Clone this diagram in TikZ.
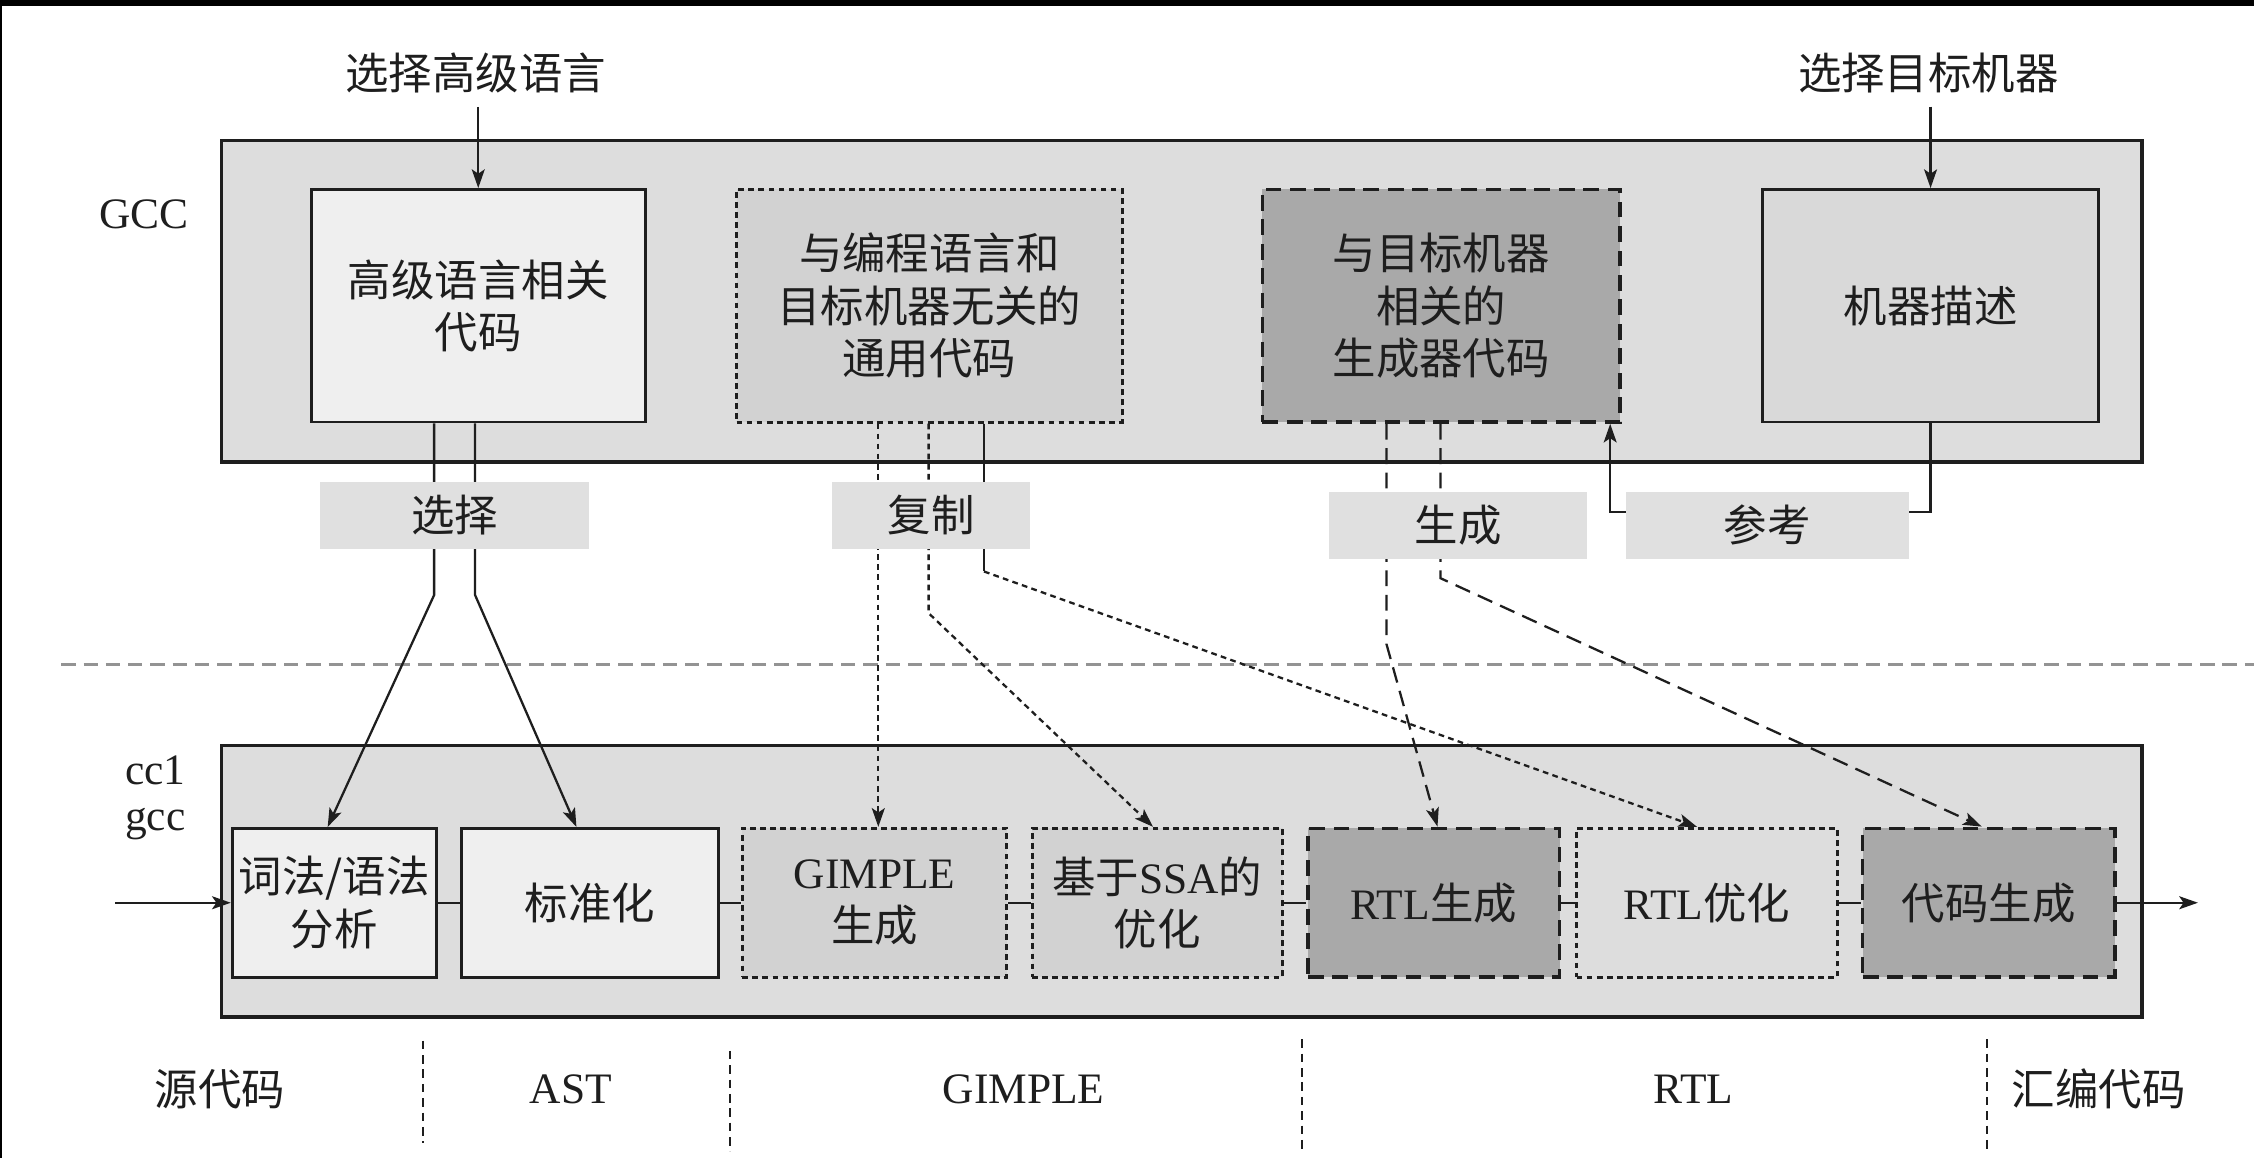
\documentclass[tikz,border=0pt]{standalone}
\usepackage{fontspec}
\setmainfont{Liberation Serif}
\newfontfamily\cjk{Noto Sans CJK SC}
\usetikzlibrary{arrows.meta,calc}
\newcommand\lat[1]{{\rmfamily #1}}
\definecolor{bgc}{HTML}{DDDDDD}
\definecolor{lite}{HTML}{EFEFEF}
\definecolor{midc}{HTML}{D2D2D2}
\definecolor{darkc}{HTML}{A9A9A9}
\definecolor{descc}{HTML}{D9D9D9}
\definecolor{labc}{HTML}{E0E0E0}
\definecolor{ink}{HTML}{1E1E1E}
\begin{document}
\begin{tikzpicture}[x=0.1mm,y=-0.1mm,
  every node/.style={font=\cjk\fontsize{8.6}{10.4}\selectfont, text=ink, align=center, inner sep=0pt},
  outerbox/.style={draw=ink, line width=0.65pt, fill=bgc, minimum width=133.6mm},
  solidbox/.style={draw=ink, line width=0.55pt},
  dotbox/.style={draw=ink, line width=0.6pt, dash pattern=on 0.4mm off 0.3mm},
  dashbox/.style={draw=ink, line width=0.7pt, dash pattern=on 1.1mm off 0.6mm},
  topbox/.style={minimum height=16.18mm},
  lowbox/.style={minimum height=10.35mm},
  lbl/.style={fill=labc, minimum height=4.7mm},
  conn/.style={draw=ink, line width=0.45pt},
  arr/.style={-{Stealth[length=1.3mm,width=0.9mm,inset=0.3mm]}},
  dotline/.style={dash pattern=on 0.4mm off 0.3mm},
  dashline/.style={dash pattern=on 1.1mm off 0.6mm},
  sepv/.style={draw=ink, line width=0.4pt, dash pattern=on 0.6mm off 0.4mm},
  seph/.style={draw=gray!85, line width=0.6pt, dash pattern=on 1mm off 0.55mm}
]
\useasboundingbox (0,0) rectangle (1568,805.6);
\fill[white] (0,0) rectangle (1568,805.6);
\fill[black] (0,0) rectangle (1568,4.5);
\fill[black] (0,0) rectangle (1.5,805.6);

% outer containers
\node[outerbox, minimum height=22.37mm] (gccbox) at (822,209.5) {};
\node[outerbox, minimum height=18.91mm] (ccbox) at (822,613) {};
\node (gcclbl) at (100,149) {\lat{GCC}};
\node (cc1lbl) at (108,535.7) {\lat{cc1}};
\node (gcc2lbl) at (108,573.4) {\lat{gcc}};

% horizontal separator
\coordinate (sepL) at (42.6,462.4);
\coordinate (sepR) at (1568,462.4);
\draw[seph] (sepL) -- (sepR);

% top texts
\node[inner ysep=0.9mm] (tsel) at (331,50.6) {选择高级语言};
\node[inner ysep=0.9mm] (tmac) at (1341.5,50.6) {选择目标机器};

% top boxes
\node[solidbox, topbox, fill=lite, minimum width=23.22mm] (A) at (332.7,212.7) {高级语言相关\\代码};
\node[dotbox, topbox, fill=midc, minimum width=26.82mm] (B) at (646.5,212.7) {与编程语言和\\目标机器无关的\\通用代码};
\node[dashbox, topbox, fill=darkc, minimum width=24.87mm] (C) at (1002.55,212.7) {与目标机器\\相关的\\生成器代码};
\node[solidbox, topbox, fill=descc, minimum width=23.36mm] (D) at (1343,212.7) {机器描述};

% lower boxes
\node[solidbox, lowbox, fill=lite, minimum width=14.19mm] (L1) at (232.45,628) {词法/语法\\分析};
\node[solidbox, lowbox, fill=lite, minimum width=17.9mm] (L2) at (410.4,628) {标准化};
\node[dotbox, lowbox, fill=midc, minimum width=18.4mm] (L3) at (608.4,628) {\lat{GIMPLE}\\生成};
\node[dotbox, lowbox, fill=midc, minimum width=17.42mm] (L4) at (805.1,628) {基于\lat{SSA}的\\优化};
\node[dashbox, lowbox, fill=darkc, minimum width=17.52mm] (L5) at (997.4,628) {\lat{RTL}生成};
\node[dotbox, lowbox, fill=bgc, minimum width=18.15mm] (L6) at (1187.55,628) {\lat{RTL}优化};
\node[dashbox, lowbox, fill=darkc, minimum width=17.55mm] (L7) at (1383.55,628) {代码生成};

% chain
\coordinate (inp) at (80,628);
\coordinate (outp) at (1529,628);
\draw[conn,arr] (inp) -- (L1.west);
\draw[conn] (L1.east) -- (L2.west);
\draw[conn] (L2.east) -- (L3.west);
\draw[conn] (L3.east) -- (L4.west);
\draw[conn] (L4.east) -- (L5.west);
\draw[conn] (L5.east) -- (L6.west);
\draw[conn] (L6.east) -- (L7.west);
\draw[conn,arr] (L7.east) -- (outp);

% input arrows
\draw[conn,arr] (tsel.south -| A.north) -- (A.north);
\draw[conn,arr] (tmac.south -| D.north) -- (D.north);

% from A (select)
\coordinate (a1) at ($(A.south)+(-30.7,0)$);
\coordinate (a2) at ($(A.south)+(-2.2,0)$);
\coordinate (a1b) at ($(a1)+(0,119.4)$);
\coordinate (a2b) at ($(a2)+(0,119.4)$);
\coordinate (l1t) at ($(L1.north)+(-4.5,0)$);
\coordinate (l2t) at ($(L2.north)+(-9.4,0)$);
\draw[conn,arr] (a1) -- (a1b) -- (l1t);
\draw[conn,arr] (a2) -- (a2b) -- (l2t);

% from B (copy)
\coordinate (b1) at ($(B.south)+(-35.5,0)$);
\coordinate (b2) at ($(B.south)+(-0.5,0)$);
\coordinate (b3) at ($(B.south)+(38,0)$);
\coordinate (b2b) at ($(b2)+(0,131.9)$);
\coordinate (b3b) at ($(b3)+(0,102.9)$);
\coordinate (l4t) at ($(L4.north)+(-3,0)$);
\coordinate (l6t) at ($(L6.north)+(-7,0)$);
\draw[conn,arr,dotline] (b1) -- (b1 |- L3.north);
\draw[conn,arr,dotline] (b2) -- (b2b) -- (l4t);
\draw[conn] (b3) -- (b3b);
\draw[conn,arr,dotline] (b3b) -- (l6t);

% from C (generate)
\coordinate (c1) at ($(C.south)+(-38,0)$);
\coordinate (c2) at ($(C.south)+(-0.5,0)$);
\coordinate (c1b) at ($(c1)+(0,153.4)$);
\coordinate (c2b) at ($(c2)+(0,107.4)$);
\coordinate (l5t) at ($(L5.north)+(2.6,0)$);
\coordinate (l7t) at ($(L7.north)+(-5,0)$);
\draw[conn,arr,dashline] (c1) -- (c1b) -- (l5t);
\draw[conn,arr,dashline] (c2) -- (c2b) -- (l7t);

% reference
\coordinate (cref) at ($(C.south east)+(-8,0)$);
\draw[conn,arr] (D.south) -- ++(0,61.5) -| (cref);

% labels
\node[lbl, minimum width=18.74mm] (sel) at (316.3,358.5) {选择};
\node[lbl, minimum width=13.75mm] (cpy) at (647.75,358.5) {复制};
\node[lbl, minimum width=17.94mm] (gen) at (1014.3,365.5) {生成};
\node[lbl, minimum width=19.7mm] (ref) at (1229.5,365.5) {参考};

% bottom stage labels
\node (s1) at (153,757.7) {源代码};
\node (s2) at (397,757.7) {\lat{AST}};
\node (s3) at (712,757.7) {\lat{GIMPLE}};
\node (s4) at (1178,757.7) {\lat{RTL}};
\node (s5) at (1460,757.7) {汇编代码};
\coordinate (v1t) at (294.4,724); \coordinate (v1b) at (294.4,795);
\coordinate (v2t) at (508,731); \coordinate (v2b) at (508,801);
\coordinate (v3t) at (905.8,723); \coordinate (v3b) at (905.8,801);
\coordinate (v4t) at (1382,723); \coordinate (v4b) at (1382,801);
\draw[sepv] (v1t) -- (v1b);
\draw[sepv] (v2t) -- (v2b);
\draw[sepv] (v3t) -- (v3b);
\draw[sepv] (v4t) -- (v4b);
\end{tikzpicture}
\end{document}
